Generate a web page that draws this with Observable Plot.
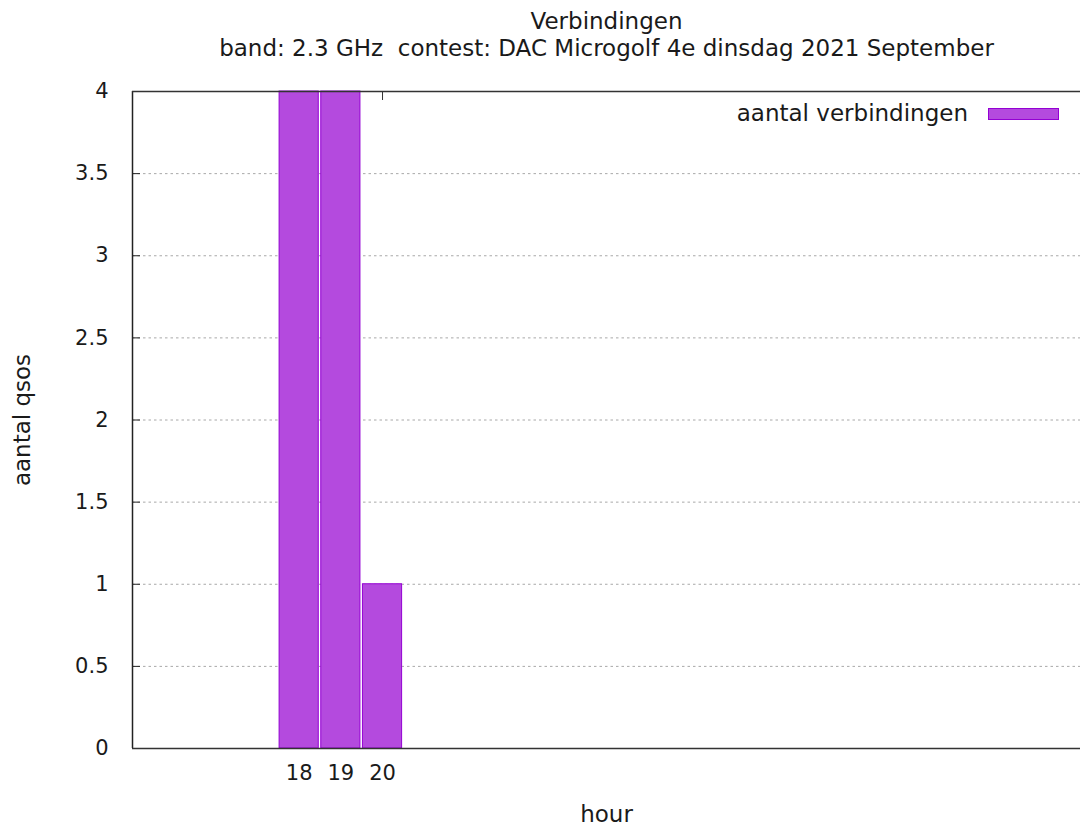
<!DOCTYPE html>
<html>
<head>
<meta charset="utf-8">
<script src="https://cdn.jsdelivr.net/npm/d3@7"></script>
<script src="https://cdn.jsdelivr.net/npm/@observablehq/plot@0.6"></script>
<style>
  html, body { margin: 0; padding: 0; background: #fff; }
  #wrap { position: relative; width: 1080px; height: 827px; font-family: "DejaVu Sans", sans-serif; color: #1a1a1a; }
  #legend { position: absolute; top: 99px; right: 21px; height: 28px; display: flex; align-items: center; font-size: 23px; }
  #legend .swatch { display: inline-block; box-sizing: border-box; width: 71px; height: 12px; margin-left: 20px; margin-top: 1px; }
</style>
</head>
<body>
<div id="wrap"></div>
<script>
// ---- data ----
const title = "Verbindingen";
const subtitle = "band: 2.3 GHz  contest: DAC Microgolf 4e dinsdag 2021 September";
const xLabel = "hour";
const yLabel = "aantal qsos";
const seriesName = "aantal verbindingen";
const hours = [18, 19, 20];
const counts = [4, 4, 1];
const yTicks = [0, 0.5, 1, 1.5, 2, 2.5, 3, 3.5, 4];
const gridTicks = [0.5, 1, 1.5, 2, 2.5, 3, 3.5];
const xDomain = [14, 36.75];
const yDomain = [0, 4];

const fillColor = "#b44ade";
const strokeColor = "#9400d3";
const halfWidth = 0.47;

const data = hours.map((h, i) => ({hour: h, count: counts[i]}));

const chart = Plot.plot({
  width: 1080,
  height: 827,
  marginLeft: 132,
  marginRight: 0,
  marginTop: 91,
  marginBottom: 79,
  style: {fontFamily: "DejaVu Sans, sans-serif", fontSize: "21px", color: "#1a1a1a", background: "#fff"},
  x: {domain: xDomain, axis: null},
  y: {domain: yDomain, axis: null},
  marks: [
    Plot.gridY(gridTicks, {stroke: "#a8a8a8", strokeOpacity: 1, strokeDasharray: "2.5,3", strokeWidth: 1}),
    Plot.axisY({ticks: yTicks, tickSize: -8, tickPadding: 32, tickFormat: d => String(d), label: null, stroke: "#222", fontSize: 21}),
    Plot.axisX({anchor: "top", ticks: hours, tickSize: -8, tickFormat: () => "", label: null, stroke: "#333"}),
    Plot.axisX({anchor: "bottom", ticks: hours, tickSize: -8, tickFormat: () => "", label: null, stroke: "#333"}),
    Plot.axisX({anchor: "bottom", ticks: hours, tickSize: 0, tickPadding: 17, tickFormat: d => String(d), label: null, fontSize: 21}),
    Plot.rectY(data, {x1: d => d.hour - halfWidth, x2: d => d.hour + halfWidth, y1: 0, y2: "count", fill: fillColor, stroke: strokeColor, strokeWidth: 1}),
    Plot.ruleX([xDomain[0]], {stroke: "#222", strokeWidth: 1.5}),
    Plot.ruleY(yDomain, {stroke: "#333", strokeWidth: 1.5}),
    Plot.text([title], {frameAnchor: "top", dy: -70, lineAnchor: "middle", fontSize: 23}),
    Plot.text([subtitle], {frameAnchor: "top", dy: -43, lineAnchor: "middle", fontSize: 23}),
    Plot.text([xLabel], {frameAnchor: "bottom", dy: 66, lineAnchor: "middle", fontSize: 23}),
    Plot.text([yLabel], {frameAnchor: "left", dx: -110, rotate: -90, textAnchor: "middle", lineAnchor: "middle", fontSize: 23})
  ]
});

const wrap = document.getElementById("wrap");
wrap.appendChild(chart);

const legend = document.createElement("div");
legend.id = "legend";
const lt = document.createElement("span");
lt.textContent = seriesName;
const sw = document.createElement("span");
sw.className = "swatch";
sw.style.background = fillColor;
sw.style.border = "1px solid " + strokeColor;
legend.appendChild(lt);
legend.appendChild(sw);
wrap.appendChild(legend);
</script>
</body>
</html>
